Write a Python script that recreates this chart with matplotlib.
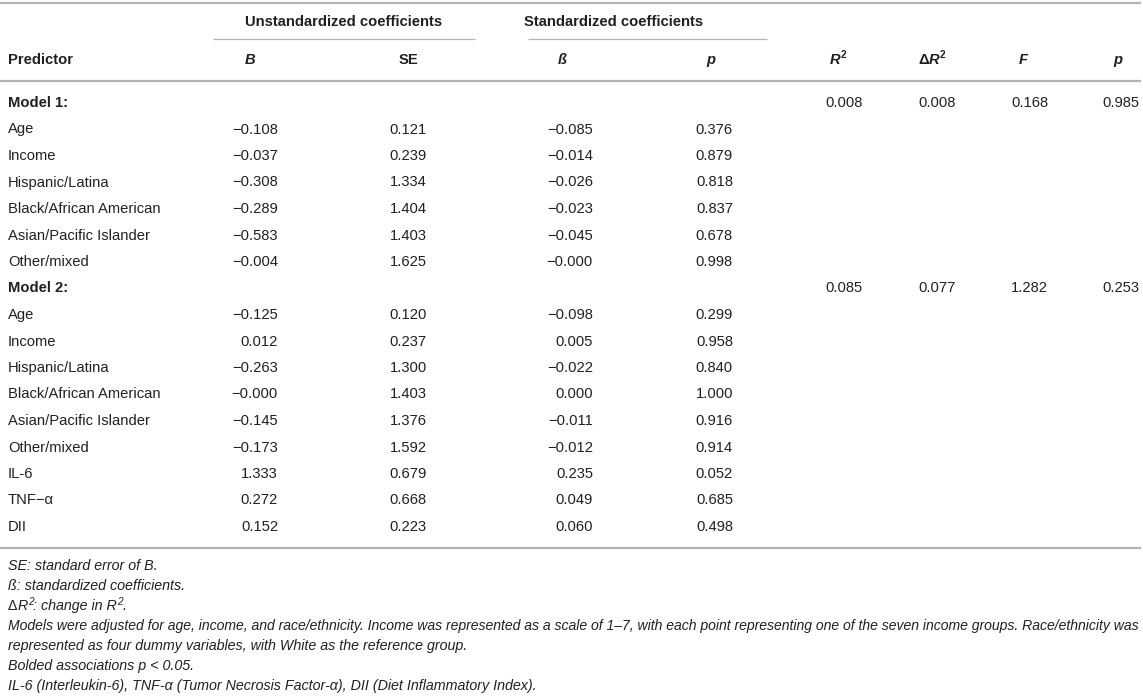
import matplotlib
matplotlib.use("Agg")
import matplotlib.pyplot as plt
from matplotlib.lines import Line2D

# ---------------- data ----------------
model1_predictors = ["Age", "Income", "Hispanic/Latina", "Black/African American",
                     "Asian/Pacific Islander", "Other/mixed"]
model1_B    = [-0.108, -0.037, -0.308, -0.289, -0.583, -0.004]
model1_SE   = [0.121, 0.239, 1.334, 1.404, 1.403, 1.625]
model1_beta = [-0.085, -0.014, -0.026, -0.023, -0.045, -0.0]
model1_p    = [0.376, 0.879, 0.818, 0.837, 0.678, 0.998]
model1_fit  = [0.008, 0.008, 0.168, 0.985]   # R2, dR2, F, p

model2_predictors = ["Age", "Income", "Hispanic/Latina", "Black/African American",
                     "Asian/Pacific Islander", "Other/mixed", "IL-6", "TNF\u2212\u03b1", "DII"]
model2_B    = [-0.125, 0.012, -0.263, -0.0, -0.145, -0.173, 1.333, 0.272, 0.152]
model2_SE   = [0.120, 0.237, 1.300, 1.403, 1.376, 1.592, 0.679, 0.668, 0.223]
model2_beta = [-0.098, 0.005, -0.022, 0.000, -0.011, -0.012, 0.235, 0.049, 0.060]
model2_p    = [0.299, 0.958, 0.840, 1.000, 0.916, 0.914, 0.052, 0.685, 0.498]
model2_fit  = [0.085, 0.077, 1.282, 0.253]

footnotes = [
    "SE: standard error of B.",
    "\u00df: standardized coefficients.",
    None,  # delta R2 line, drawn specially
    "Models were adjusted for age, income, and race/ethnicity. Income was represented as a scale of 1\u20137, with each point representing one of the seven income groups. Race/ethnicity was",
    "represented as four dummy variables, with White as the reference group.",
    "Bolded associations p < 0.05.",
    "IL-6 (Interleukin-6), TNF-\u03b1 (Tumor Necrosis Factor-\u03b1), DII (Diet Inflammatory Index).",
]

# ---------------- layout ----------------
W, H = 1143, 696
fig = plt.figure(figsize=(W / 100, H / 100), dpi=100)
ax = fig.add_axes([0, 0, 1, 1])
ax.set_xlim(0, W)
ax.set_ylim(H, 0)
ax.axis("off")
renderer = fig.canvas.get_renderer()

FONT = "Liberation Sans"
FS = 10.6
FS_NOTE = 10.3
TXT = "#231f20"
LINE = "#b4b4b4"

def fmt(v):
    return f"{v:.3f}".replace("-", "\u2212")

def t(x, y, s, ha="left", weight="normal", style="normal", size=FS, **kw):
    return ax.text(x, y, s, ha=ha, va="center", fontfamily=FONT, fontsize=size,
                   fontweight=weight, fontstyle=style, color=TXT, **kw)

def width(txt):
    return txt.get_window_extent(renderer=renderer).width

def pieces(x, y, parts, center=False):
    """parts: list of (string, weight, style, size, dy). Draw left-to-right."""
    objs = []
    cx = x
    for s, w, st, sz, d in parts:
        o = t(cx, y + d, s, weight=w, style=st, size=sz)
        cx += width(o)
        objs.append(o)
    if center:
        shift = (cx - x) / 2
        for o in objs:
            px, py = o.get_position()
            o.set_position((px - shift, py))
    return objs

def hline(x0, x1, y, lw):
    ax.add_line(Line2D([x0, x1], [y, y], color=LINE, lw=lw, solid_capstyle="butt"))

# rules
hline(0, 1141, 3, 1.6)
hline(213, 475, 39, 0.9)
hline(528, 767, 39, 0.9)
hline(0, 1141, 81, 1.6)
hline(0, 1141, 548, 1.6)

# group headers
t(344, 22, "Unstandardized coefficients", ha="center", weight="bold")
t(614, 22, "Standardized coefficients", ha="center", weight="bold")

# column headers
yh = 60
SUP = 7.2
t(8, yh, "Predictor", weight="bold")
t(250, yh, "B", ha="center", weight="bold", style="italic")
t(408, yh, "SE", ha="center", weight="bold")
t(562, yh, "\u00df", ha="center", weight="bold", style="italic")
t(711, yh, "p", ha="center", weight="bold", style="italic")
pieces(838, yh, [("R", "bold", "italic", FS, 0), ("2", "bold", "normal", SUP, -4.5)], center=True)
pieces(932, yh, [("\u0394", "bold", "normal", FS, 0), ("R", "bold", "italic", FS, 0),
                 ("2", "bold", "normal", SUP, -4.5)], center=True)
t(1023, yh, "F", ha="center", weight="bold", style="italic")
t(1118, yh, "p", ha="center", weight="bold", style="italic")

# column right edges
col_x = [278, 427, 593, 733]
fit_x = [863, 956, 1048, 1139]

y0 = 103
dy = 26.5
row = 0

def model_block(title, preds, B, SE, beta, p, fit):
    global row
    y = y0 + row * dy
    t(8, y, title, weight="bold")
    for xr, v in zip(fit_x, fit):
        t(xr, y, fmt(v), ha="right")
    row += 1
    for i, name in enumerate(preds):
        y = y0 + row * dy
        t(8, y, name)
        for xr, arr in zip(col_x, (B, SE, beta, p)):
            t(xr, y, fmt(arr[i]), ha="right")
        row += 1

model_block("Model 1:", model1_predictors, model1_B, model1_SE, model1_beta, model1_p, model1_fit)
model_block("Model 2:", model2_predictors, model2_B, model2_SE, model2_beta, model2_p, model2_fit)

# footnotes
fy0 = 565.5
fdy = 20.15
SUPN = 7.2
for i, s in enumerate(footnotes):
    y = fy0 + i * fdy
    if s is None:
        pieces(8, y, [("\u0394", "normal", "normal", FS_NOTE, 0),
                      ("R", "normal", "italic", FS_NOTE, 0),
                      ("2", "normal", "italic", SUPN, -3.8),
                      (": change in R", "normal", "italic", FS_NOTE, 0),
                      ("2", "normal", "italic", SUPN, -3.8),
                      (".", "normal", "italic", FS_NOTE, 0)])
    else:
        o = t(8, y, s, style="italic", size=FS_NOTE)
        w = width(o)
        if 8 + w > 1139:
            o.set_fontsize(FS_NOTE * (1139 - 8) / w)

fig.savefig("out.png", dpi=100, facecolor="white")
